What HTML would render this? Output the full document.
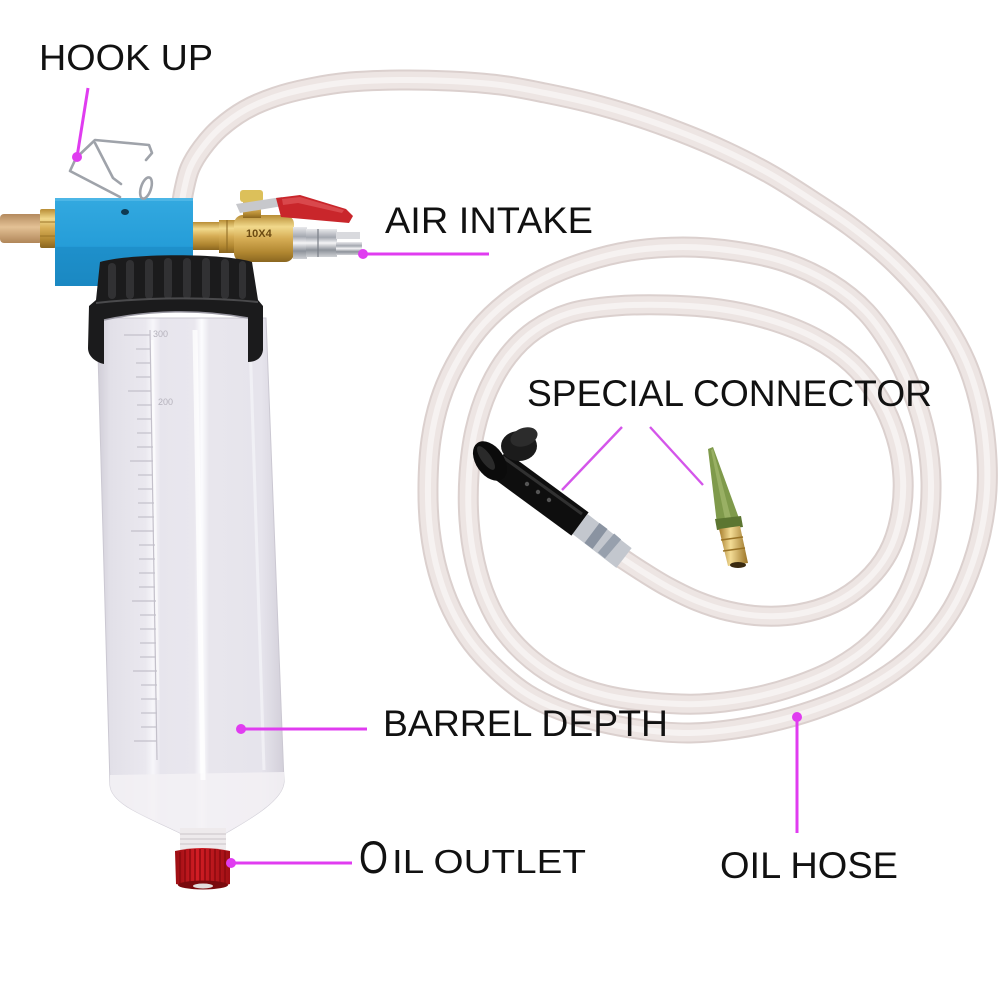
<!DOCTYPE html>
<html>
<head>
<meta charset="utf-8">
<style>
  html,body{margin:0;padding:0;background:#fff;}
  svg{display:block;}
  .lbl{font-family:"Liberation Sans",sans-serif;fill:#111;}
</style>
</head>
<body>
<svg width="1000" height="1000" viewBox="0 0 1000 1000" xmlns="http://www.w3.org/2000/svg">
  <defs>
    <path id="hose" fill="none" stroke-linejoin="round" stroke-linecap="butt" d="M180,215 L184,190 L190,168 L202,148 L220,128 L245,110 L275,97 L310,88 L350,82 L400,80 L450,81 L500,85 L545,93 L590,103 L635,116 L680,132 L725,151 L770,174 L810,199 L850,226 L888,257 L920,290 L946,325 L966,362 L979,402 L986,445 L987,490 L981,533 L969,573 L952,609 L928,641 L899,667 L864,689 L825,706 L780,720 L735,729 L690,733 L645,730 L600,722 L560,710 L527,694 L498,671 L472,643 L452,610 L438,572 L430,530 L428,485 L431,440 L440,400 L455,365 L478,330 L507,302 L543,279 L585,262 L630,251 L683,247 L735,251 L785,262 L830,283 L866,312 L893,350 L913,393 L926,437 L931,482 L928,527 L917,572 L899,610 L872,643 L837,668 L795,686 L750,698 L700,704 L650,702 L605,695 L565,681 L532,660 L505,632 L487,600 L475,562 L469,520 L469,475 L475,430 L488,390 L508,356 L535,330 L570,313 L615,306 L667,305 L720,309 L770,320 L815,338 L852,364 L879,398 L896,437 L903,478 L900,518 L888,553 L865,582 L834,603 L798,614 L762,616 L728,611 L697,601 L668,587 L643,572 L620,557"/>
    <linearGradient id="barrelG" x1="0" y1="0" x2="1" y2="0">
      <stop offset="0" stop-color="#cfccd6"/>
      <stop offset="0.07" stop-color="#e2e0e8"/>
      <stop offset="0.26" stop-color="#eae8ef"/>
      <stop offset="0.30" stop-color="#f7f6fa"/>
      <stop offset="0.34" stop-color="#e7e5ed"/>
      <stop offset="0.52" stop-color="#e9e7ee"/>
      <stop offset="0.56" stop-color="#fcfcfe"/>
      <stop offset="0.60" stop-color="#e8e6ed"/>
      <stop offset="0.88" stop-color="#e6e4ec"/>
      <stop offset="1" stop-color="#d2cfd9"/>
    </linearGradient>
    <linearGradient id="blueG" x1="0" y1="0" x2="0" y2="1">
      <stop offset="0" stop-color="#33a9e0"/>
      <stop offset="0.55" stop-color="#259dd8"/>
      <stop offset="0.56" stop-color="#1e90cb"/>
      <stop offset="1" stop-color="#1a88c2"/>
    </linearGradient>
    <linearGradient id="brassG" x1="0" y1="0" x2="0" y2="1">
      <stop offset="0" stop-color="#b88d35"/>
      <stop offset="0.25" stop-color="#f1d98c"/>
      <stop offset="0.5" stop-color="#d6ad55"/>
      <stop offset="0.8" stop-color="#b08630"/>
      <stop offset="1" stop-color="#8a6620"/>
    </linearGradient>
    <linearGradient id="brassH" x1="0" y1="0" x2="1" y2="0">
      <stop offset="0" stop-color="#a67c2c"/>
      <stop offset="0.4" stop-color="#f3dc95"/>
      <stop offset="1" stop-color="#9a7326"/>
    </linearGradient>
    <linearGradient id="silverG" x1="0" y1="0" x2="0" y2="1">
      <stop offset="0" stop-color="#e9e9ec"/>
      <stop offset="0.3" stop-color="#a4a8b0"/>
      <stop offset="0.5" stop-color="#f4f4f6"/>
      <stop offset="0.75" stop-color="#8d929a"/>
      <stop offset="1" stop-color="#cfd1d5"/>
    </linearGradient>
    <linearGradient id="filterG" x1="0" y1="0" x2="0" y2="1">
      <stop offset="0" stop-color="#b48a5e"/>
      <stop offset="0.45" stop-color="#e3c195"/>
      <stop offset="1" stop-color="#b08659"/>
    </linearGradient>
    <linearGradient id="redG" x1="0" y1="0" x2="1" y2="0">
      <stop offset="0" stop-color="#9c0e13"/>
      <stop offset="0.4" stop-color="#d21d24"/>
      <stop offset="1" stop-color="#a01015"/>
    </linearGradient>
  </defs>

  <rect width="1000" height="1000" fill="#fff"/>

  <!-- hose -->
  <use href="#hose" stroke="#dbd0ce" stroke-width="21"/>
  <use href="#hose" stroke="#ede5e3" stroke-width="17"/>
  <use href="#hose" stroke="#f6f2f1" stroke-width="6"/>

  <!-- transparent sleeve -->
  <line x1="580" y1="524" x2="624" y2="558" stroke="#c3c7ce" stroke-width="25"/>
  <line x1="592" y1="533" x2="600" y2="539" stroke="#8a93a1" stroke-width="25"/>
  <line x1="606" y1="543" x2="613" y2="549" stroke="#97a0ad" stroke-width="25"/>

  <!-- black connector -->
  <line x1="497" y1="463" x2="580" y2="524" stroke="#0e0e0e" stroke-width="29"/>
  <line x1="500" y1="455" x2="582" y2="514" stroke="#3a3a3a" stroke-width="3" opacity="0.8"/>
  <circle cx="527" cy="484" r="2.2" fill="#555"/>
  <circle cx="538" cy="492" r="2.2" fill="#555"/>
  <circle cx="549" cy="500" r="2.2" fill="#555"/>
  <ellipse cx="519" cy="446" rx="18" ry="15" fill="#1b1b1b"/>
  <ellipse cx="524" cy="437" rx="14" ry="9" transform="rotate(-20 524 437)" fill="#2c2c2c"/>
  <ellipse cx="490" cy="461" rx="14" ry="22" transform="rotate(-35 490 461)" fill="#0b0b0b"/>
  <ellipse cx="486" cy="458" rx="5" ry="14" transform="rotate(-35 486 458)" fill="#2a2a2a"/>

  <!-- green tip + brass barb -->
  <polygon points="708,449 713,447 740,521 717,524" fill="#7f9a4b"/>
  <polygon points="711,450 713,449 731,518 725,519" fill="#a4b96f" opacity="0.7"/>
  <polygon points="715,519 741,516 743,527 717,530" fill="#5c7631"/>
  <polygon points="719,529 740,526 748,563 728,566" fill="url(#brassH)"/>
  <line x1="721" y1="540" x2="743" y2="537" stroke="#9a7326" stroke-width="1.5"/>
  <line x1="723" y1="551" x2="745" y2="548" stroke="#9a7326" stroke-width="1.5"/>
  <ellipse cx="738" cy="565" rx="8" ry="3" fill="#3a2a10"/>

  <!-- barrel -->
  <path d="M97,318 L266,318 L284,782 C283,800 252,818 226,833 L180,833 C150,818 111,805 110,785 Z" fill="url(#barrelG)" stroke="#cbc8d2" stroke-width="1"/>
  <path d="M110,775 L284,772 L284,782 C283,800 252,818 226,833 L180,833 C150,818 111,805 110,785 Z" fill="#f3f1f5" opacity="0.85"/>
  <line x1="195" y1="330" x2="203" y2="780" stroke="#ffffff" stroke-width="5" opacity="0.8"/>
  <line x1="152" y1="340" x2="158" y2="700" stroke="#ffffff" stroke-width="3" opacity="0.6"/>
  <line x1="250" y1="340" x2="264" y2="770" stroke="#f8f8fb" stroke-width="3" opacity="0.6"/>
  <g stroke="#c3c0ca" stroke-width="1.2">
    <line x1="150" y1="330" x2="157" y2="760"/>
    <line x1="124" y1="335" x2="150" y2="335"/>
    <line x1="136" y1="349" x2="150" y2="349"/>
    <line x1="136" y1="363" x2="151" y2="363"/>
    <line x1="136" y1="377" x2="151" y2="377"/>
    <line x1="128" y1="391" x2="151" y2="391"/>
    <line x1="137" y1="405" x2="152" y2="405"/>
    <line x1="137" y1="419" x2="152" y2="419"/>
    <line x1="137" y1="433" x2="152" y2="433"/>
    <line x1="137" y1="447" x2="153" y2="447"/>
    <line x1="130" y1="461" x2="153" y2="461"/>
    <line x1="138" y1="475" x2="153" y2="475"/>
    <line x1="138" y1="489" x2="153" y2="489"/>
    <line x1="138" y1="503" x2="154" y2="503"/>
    <line x1="138" y1="517" x2="154" y2="517"/>
    <line x1="131" y1="531" x2="154" y2="531"/>
    <line x1="139" y1="545" x2="155" y2="545"/>
    <line x1="139" y1="559" x2="155" y2="559"/>
    <line x1="139" y1="573" x2="155" y2="573"/>
    <line x1="139" y1="587" x2="155" y2="587"/>
    <line x1="132" y1="601" x2="156" y2="601"/>
    <line x1="140" y1="615" x2="156" y2="615"/>
    <line x1="140" y1="629" x2="156" y2="629"/>
    <line x1="140" y1="643" x2="156" y2="643"/>
    <line x1="140" y1="657" x2="156" y2="657"/>
    <line x1="133" y1="671" x2="157" y2="671"/>
    <line x1="141" y1="685" x2="157" y2="685"/>
    <line x1="141" y1="699" x2="157" y2="699"/>
    <line x1="141" y1="713" x2="157" y2="713"/>
    <line x1="141" y1="727" x2="157" y2="727"/>
    <line x1="134" y1="741" x2="157" y2="741"/>
  </g>
  <text x="153" y="337" font-family="Liberation Sans, sans-serif" font-size="9" fill="#b5b2bc">300</text>
  <text x="158" y="405" font-family="Liberation Sans, sans-serif" font-size="9" fill="#b5b2bc">200</text>

  <!-- neck + red cap -->
  <rect x="180" y="828" width="46" height="22" fill="#eeeaec"/>
  <g stroke="#d2ccd0" stroke-width="1.2">
    <line x1="180" y1="834" x2="226" y2="834"/>
    <line x1="180" y1="839" x2="226" y2="839"/>
    <line x1="180" y1="844" x2="226" y2="844"/>
  </g>
  <path d="M175,851 Q202,845 230,851 L230,884 Q203,892 176,884 Z" fill="url(#redG)"/>
  <g stroke="#8a0a0f" stroke-width="1.4">
    <line x1="180" y1="852" x2="180" y2="884"/>
    <line x1="185" y1="850" x2="185" y2="886"/>
    <line x1="190" y1="849" x2="190" y2="887"/>
    <line x1="195" y1="849" x2="195" y2="887"/>
    <line x1="200" y1="849" x2="200" y2="888"/>
    <line x1="205" y1="849" x2="205" y2="888"/>
    <line x1="210" y1="849" x2="210" y2="887"/>
    <line x1="215" y1="849" x2="215" y2="887"/>
    <line x1="220" y1="850" x2="220" y2="886"/>
    <line x1="225" y1="851" x2="225" y2="885"/>
  </g>
  <ellipse cx="203" cy="885" rx="25" ry="4.5" fill="#7a0a0e"/>
  <ellipse cx="203" cy="886" rx="10" ry="2.5" fill="#e2dede"/>

  <!-- left filter + nut -->
  <rect x="0" y="214" width="43" height="29" rx="4" fill="url(#filterG)"/>
  <rect x="40" y="209" width="16" height="39" rx="2" fill="url(#brassG)"/>
  <line x1="40" y1="222" x2="56" y2="222" stroke="#9a7326" stroke-width="1"/>
  <line x1="40" y1="236" x2="56" y2="236" stroke="#9a7326" stroke-width="1"/>

  <!-- blue block -->
  <rect x="55" y="198" width="138" height="88" fill="url(#blueG)"/>
  <rect x="55" y="198" width="138" height="3" fill="#4cb6e6"/>
  <ellipse cx="125" cy="212" rx="4" ry="3" fill="#0f3a52"/>

  <!-- hook wire -->
  <g fill="none" stroke="#9fa3aa" stroke-width="2.6" stroke-linejoin="round" stroke-linecap="round">
    <path d="M120,197 L70,171 L76,158 L95,140 L149,145 L152,153 L146,160"/>
    <path d="M95,143 L113,178 L121,184"/>
    <ellipse cx="146" cy="188" rx="5" ry="11" transform="rotate(18 146 188)"/>
  </g>

  <!-- brass valve -->
  <rect x="193" y="222" width="28" height="28" fill="url(#brassG)"/>
  <rect x="219" y="220" width="17" height="33" fill="url(#brassG)"/>
  <line x1="227" y1="220" x2="227" y2="253" stroke="#8a6620" stroke-width="1"/>
  <rect x="234" y="215" width="60" height="47" rx="9" fill="url(#brassG)"/>
  <text x="246" y="237" font-family="Liberation Sans, sans-serif" font-size="11" font-weight="bold" fill="#6b4a12">10X4</text>
  <rect x="243" y="200" width="18" height="18" fill="url(#brassG)"/>
  <rect x="240" y="190" width="23" height="12" rx="3" fill="#dcc05a"/>
  <polygon points="236,204 282,197 283,206 240,213" fill="#c7c8cc"/>
  <polygon points="276,198 300,195 346,209 353,216 349,223 281,217" fill="#c9262b"/>
  <polygon points="282,199 300,197 344,210 342,213 298,203 283,205" fill="#e0575b" opacity="0.7"/>

  <!-- chrome coupler -->
  <rect x="293" y="227" width="14" height="32" fill="url(#silverG)"/>
  <rect x="306" y="229" width="31" height="28" fill="url(#silverG)"/>
  <rect x="336" y="232" width="24" height="7" fill="#d9dade"/>
  <rect x="336" y="242" width="26" height="13" fill="url(#silverG)"/>
  <line x1="318" y1="229" x2="318" y2="257" stroke="#7a7f87" stroke-width="1.2"/>

  <!-- black cap -->
  <path d="M100,262 C130,253 225,253 252,262 L258,300 L263,306 L263,350 C262,358 256,362 248,362 L248,318 C200,309 150,310 104,320 L104,364 C95,362 88,356 88,348 L89,306 L96,300 Z" fill="#1b1b1c"/>
  <g fill="#313133">
    <rect x="108" y="263" width="8" height="36" rx="4"/>
    <rect x="126" y="260" width="8" height="39" rx="4"/>
    <rect x="145" y="259" width="8" height="40" rx="4"/>
    <rect x="164" y="258" width="8" height="41" rx="4"/>
    <rect x="183" y="258" width="8" height="41" rx="4"/>
    <rect x="202" y="258" width="8" height="41" rx="4"/>
    <rect x="221" y="259" width="8" height="40" rx="4"/>
    <rect x="239" y="261" width="7" height="38" rx="3.5"/>
  </g>
  <path d="M96,303 C150,297 210,297 258,302" fill="none" stroke="#4a4a4c" stroke-width="2"/>
  <path d="M104,320 C150,310 200,309 248,318" fill="none" stroke="#9a98a2" stroke-width="1.5"/>

  <!-- pink leader lines -->
  <g stroke="#e03cf0" stroke-width="3" fill="none">
    <line x1="88" y1="88" x2="77" y2="157"/>
    <line x1="363" y1="254" x2="489" y2="254"/>
    <line x1="241" y1="729" x2="367" y2="729"/>
    <line x1="231" y1="863" x2="352" y2="863"/>
    <line x1="797" y1="717" x2="797" y2="833"/>
  </g>
  <g stroke="#d455ea" stroke-width="2.4">
    <line x1="622" y1="427" x2="562" y2="490"/>
    <line x1="650" y1="427" x2="703" y2="485"/>
  </g>
  <g fill="#e03cf0">
    <circle cx="77" cy="157" r="5"/>
    <circle cx="363" cy="254" r="5"/>
    <circle cx="241" cy="729" r="5"/>
    <circle cx="231" cy="863" r="5"/>
    <circle cx="797" cy="717" r="5"/>
  </g>

  <!-- labels -->
  <text class="lbl" x="39" y="70" font-size="36" textLength="174" lengthAdjust="spacingAndGlyphs">HOOK UP</text>
  <text class="lbl" x="385" y="233" font-size="37" textLength="208" lengthAdjust="spacingAndGlyphs">AIR INTAKE</text>
  <text class="lbl" x="527" y="406" font-size="37" textLength="405" lengthAdjust="spacingAndGlyphs">SPECIAL CONNECTOR</text>
  <text class="lbl" x="383" y="736" font-size="37" textLength="285" lengthAdjust="spacingAndGlyphs">BARREL DEPTH</text>
  <text class="lbl" x="359" y="873" font-size="45" textLength="29" lengthAdjust="spacingAndGlyphs">O</text>
  <text class="lbl" x="392" y="873" font-size="33" textLength="194" lengthAdjust="spacingAndGlyphs">IL OUTLET</text>
  <text class="lbl" x="720" y="878" font-size="37" textLength="178" lengthAdjust="spacingAndGlyphs">OIL HOSE</text>
</svg>
<script>
(function(){
  try{
    var p=document.getElementById('hose');
    var d=p.getAttribute('d');
    var nums=d.match(/-?\d+(\.\d+)?/g).map(Number);
    var pts=[];
    for(var i=0;i<nums.length;i+=2){pts.push([nums[i],nums[i+1]]);}
    var n=pts.length;
    var out='M'+pts[0][0]+','+pts[0][1];
    for(var i=0;i<n-1;i++){
      var p0=pts[i>0?i-1:i],p1=pts[i],p2=pts[i+1],p3=pts[i+2<n?i+2:i+1];
      var c1x=p1[0]+(p2[0]-p0[0])/6,c1y=p1[1]+(p2[1]-p0[1])/6;
      var c2x=p2[0]-(p3[0]-p1[0])/6,c2y=p2[1]-(p3[1]-p1[1])/6;
      out+=' C'+c1x.toFixed(1)+','+c1y.toFixed(1)+' '+c2x.toFixed(1)+','+c2y.toFixed(1)+' '+p2[0]+','+p2[1];
    }
    p.setAttribute('d',out);
  }catch(e){}
})();
</script>
</body>
</html>
